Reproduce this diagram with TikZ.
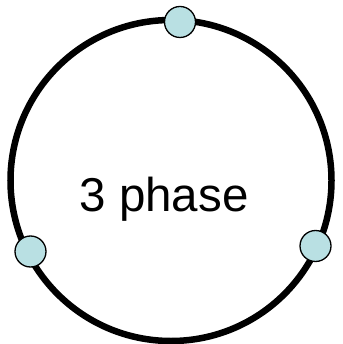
\documentclass[tikz,border=0pt]{standalone}
\usepackage{fontspec}
\setmainfont{Liberation Sans}
\definecolor{termfill}{RGB}{185,224,227}

\begin{document}
\begin{tikzpicture}[x=1pt,y=1pt,yscale=-1,xscale=1,
  terminal/.style={circle,draw=black,line width=1.3pt,fill=termfill,inner sep=0pt,minimum size=31pt}]
\useasboundingbox (0,0) rectangle (342,344);

%Shape: Circle
\draw [line width=6.5pt] (171,180.5) circle [radius=160.5] ;

% Text Node
\node (label) at (164,199) {\fontsize{47.5}{52}\selectfont 3 phase};
% Terminals
\node [terminal] (phaseA) at (180,22) {};
\node [terminal] (phaseB) at (30.5,251.5) {};
\node [terminal] (phaseC) at (315.5,246) {};

\end{tikzpicture}
\end{document}
